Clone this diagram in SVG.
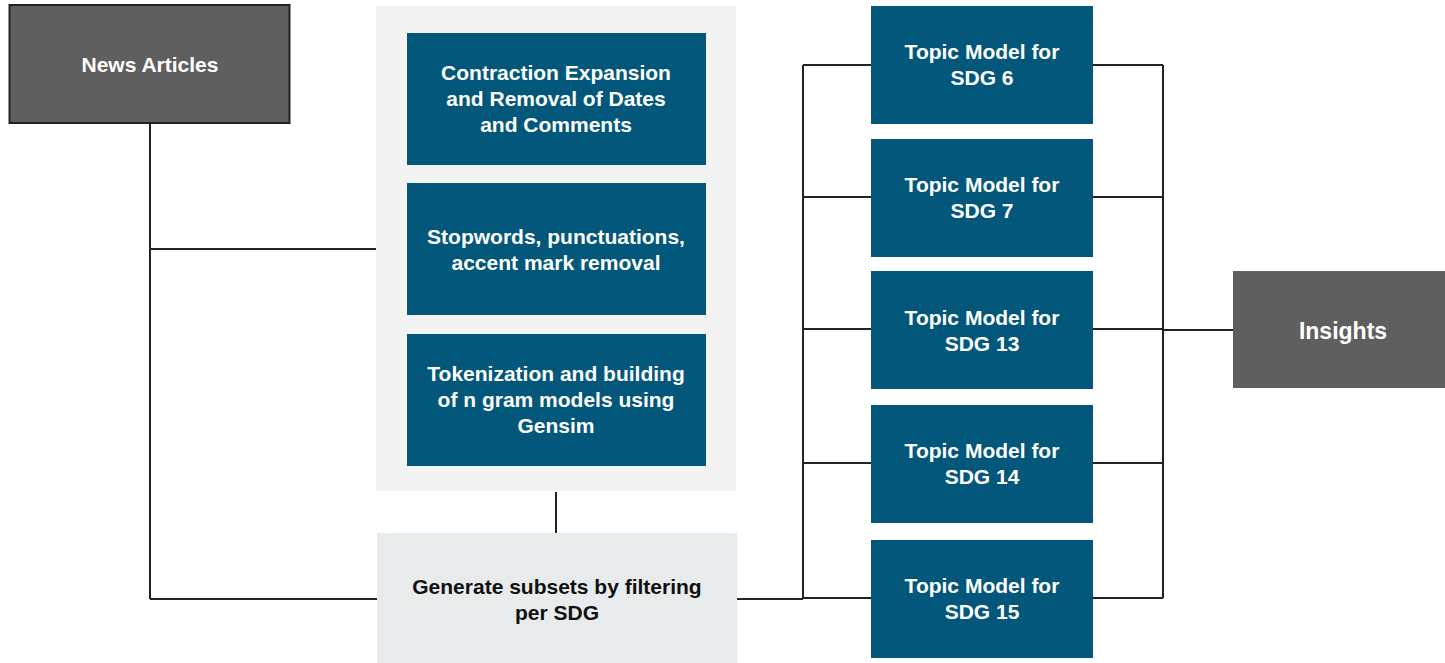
<svg xmlns="http://www.w3.org/2000/svg" width="1445" height="663" viewBox="0 0 1445 663">
<style>
.dark{fill:#5f5f5f}
.blue{fill:#02577a}
.t{font-family:"Liberation Sans",Arial,sans-serif;font-weight:bold;font-size:21px;text-anchor:middle;fill:#ffffff}
.tb{fill:#111111}
.c{fill:none;stroke:#222222;stroke-width:2}
</style>
<rect width="1445" height="663" fill="#ffffff"/>
<g id="connectors">
<path class="c" d="M150,123 V599 M150,249 H376 M150,599 H377"/>
<path class="c" d="M556,492 V533"/>
<path class="c" d="M737,599 H803 M803,65 V599 M803,65 H871 M803,197 H871 M803,329 H871 M803,463 H871 M803,598 H871"/>
<path class="c" d="M1093,65 H1163 M1093,197 H1163 M1093,329 H1163 M1093,463 H1163 M1093,598 H1163 M1163,65 V598 M1163,330 H1233"/>
</g>
<g id="news">
<rect x="9.5" y="5" width="280" height="118" class="dark" stroke="#222222" stroke-width="2"/>
<text class="t" x="150" y="72">News Articles</text>
</g>
<g id="preprocessing">
<rect x="376" y="6" width="360" height="485" fill="#f3f3f3"/>
</g>
<g id="contraction">
<rect x="407" y="33" width="299" height="132" class="blue"/>
<text class="t" x="556" y="80">Contraction Expansion</text>
<text class="t" x="556" y="106">and Removal of Dates</text>
<text class="t" x="556" y="132">and Comments</text>
</g>
<g id="stopwords">
<rect x="407" y="183" width="299" height="132" class="blue"/>
<text class="t" x="556" y="244">Stopwords, punctuations,</text>
<text class="t" x="556" y="270">accent mark removal</text>
</g>
<g id="tokenization">
<rect x="407" y="334" width="299" height="132" class="blue"/>
<text class="t" x="556" y="381">Tokenization and building</text>
<text class="t" x="556" y="407">of n gram models using</text>
<text class="t" x="556" y="433">Gensim</text>
</g>
<g id="generate">
<rect x="377" y="533" width="360" height="130" fill="#e8ebec"/>
<text class="t tb" x="557" y="594">Generate subsets by filtering</text>
<text class="t tb" x="557" y="620">per SDG</text>
</g>
<g id="sdg6">
<rect x="871" y="6" width="222" height="118" class="blue"/>
<text class="t" x="982" y="59">Topic Model for</text>
<text class="t" x="982" y="85">SDG 6</text>
</g>
<g id="sdg7">
<rect x="871" y="139" width="222" height="118" class="blue"/>
<text class="t" x="982" y="192">Topic Model for</text>
<text class="t" x="982" y="218">SDG 7</text>
</g>
<g id="sdg13">
<rect x="871" y="271" width="222" height="118" class="blue"/>
<text class="t" x="982" y="325">Topic Model for</text>
<text class="t" x="982" y="351">SDG 13</text>
</g>
<g id="sdg14">
<rect x="871" y="405" width="222" height="118" class="blue"/>
<text class="t" x="982" y="458">Topic Model for</text>
<text class="t" x="982" y="484">SDG 14</text>
</g>
<g id="sdg15">
<rect x="871" y="540" width="222" height="118" class="blue"/>
<text class="t" x="982" y="593">Topic Model for</text>
<text class="t" x="982" y="619">SDG 15</text>
</g>
<g id="insights">
<rect x="1233" y="271" width="212" height="117" class="dark"/>
<text class="t" x="1343" y="339" style="font-size:23px">Insights</text>
</g>
</svg>
